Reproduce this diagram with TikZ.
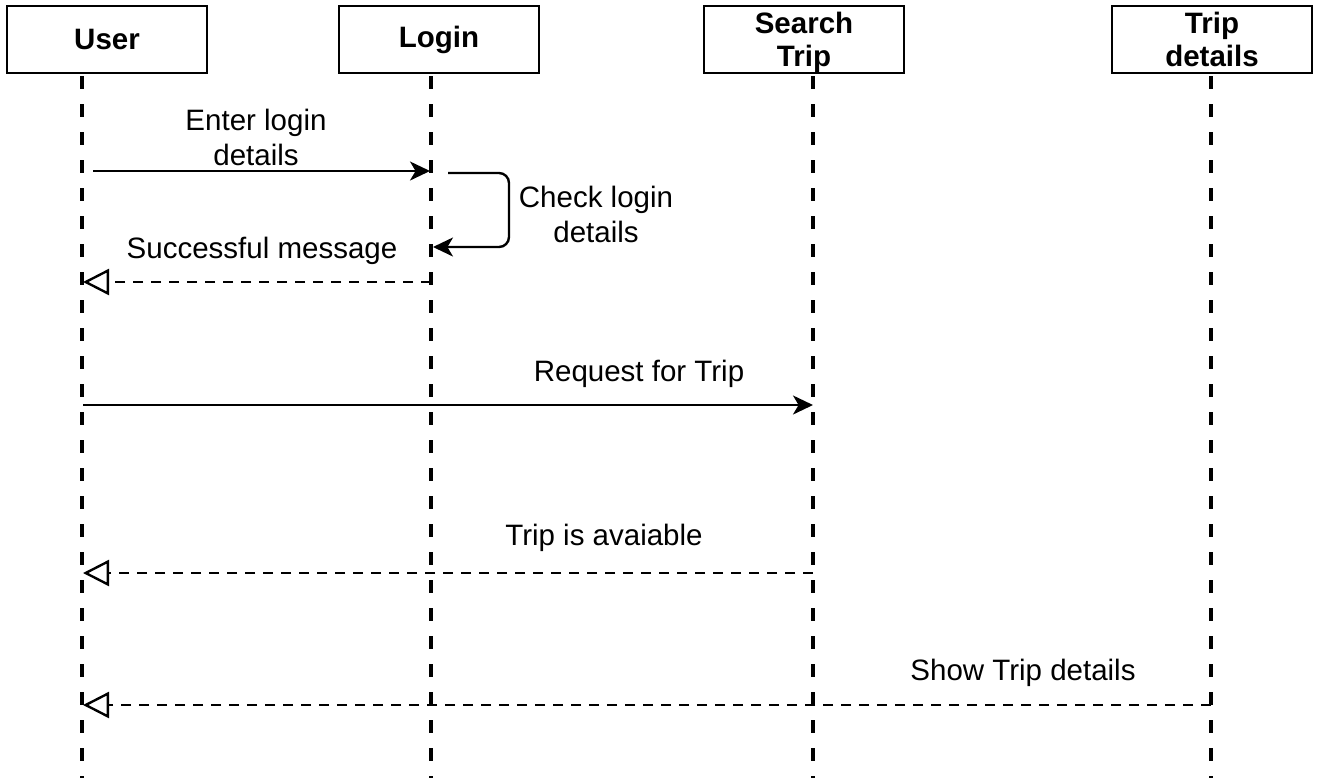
\documentclass[tikz,border=0pt]{standalone}
\usepackage{fontspec}
\setmainfont{Liberation Sans}
\usetikzlibrary{arrows.meta}

\tikzset{
  head/.style={rectangle,draw,line width=1pt,minimum width=100pt,minimum height=33.5pt,inner sep=0pt,align=center,font=\bfseries\fontsize{14.75}{16.5}\selectfont},
  lifeline/.style={line width=2pt,dash pattern=on 6.5pt off 7.5pt},
  call/.style={line width=1.2pt,-{Stealth[length=10pt,width=9.5pt,inset=2.8pt]}},
  reply/.style={line width=1.2pt,dash pattern=on 5pt off 4pt,-{Triangle[open,length=13pt,width=13pt,line width=1.2pt]}},
  msglabel/.style={align=center,inner sep=0pt,font=\fontsize{14.75}{17.5}\selectfont},
}

\begin{document}
\begin{tikzpicture}[x=0.5pt,y=-0.5pt]
    \useasboundingbox (0,0) rectangle (1319,778);

    \node[head] (user) at (107,39.5) {User};
    \node[head] (login) at (439,39.5) {Login};
    \node[head,text depth=0pt] (search) at (804,39.5) {Search\\Trip};
    \node[head,text depth=0pt] (trip) at (1212,39.5) {Trip\\details};

    % lifelines
    \coordinate (userTop) at (82,76);
    \coordinate (userEnd) at (82,778);
    \coordinate (loginTop) at (431,76);
    \coordinate (loginEnd) at (431,778);
    \coordinate (searchTop) at (813,76);
    \coordinate (searchEnd) at (813,778);
    \coordinate (tripTop) at (1211,76);
    \coordinate (tripEnd) at (1211,778);

    \draw[lifeline] (userTop) -- (userEnd);
    \draw[lifeline] (loginTop) -- (loginEnd);
    \draw[lifeline] (searchTop) -- (searchEnd);
    \draw[lifeline] (tripTop) -- (tripEnd);

    % message ends
    \coordinate (enterA) at (93,171);
    \coordinate (enterB) at (430,171);
    \coordinate (checkA) at (448,173);
    \coordinate (checkB) at (433,247);
    \coordinate (okA) at (431,282);
    \coordinate (okB) at (83,282);
    \coordinate (reqA) at (83,405);
    \coordinate (reqB) at (813,405);
    \coordinate (availA) at (813,573);
    \coordinate (availB) at (83,573);
    \coordinate (showA) at (1211,705);
    \coordinate (showB) at (83,705);

    \draw[call] (enterA) -- (enterB);
    \draw[call,rounded corners=5pt] (checkA) -- ++(61,0) |- (checkB);
    \draw[reply] (okA) -- (okB);
    \draw[call] (reqA) -- (reqB);
    \draw[reply] (availA) -- (availB);
    \draw[reply] (showA) -- (showB);

    \node[msglabel] (enterTxt) at (256,137) {Enter login\\details};
    \node[msglabel] (checkTxt) at (596,214) {Check login\\details};
    \node[msglabel] (okTxt) at (262,251) {Successful message};
    \node[msglabel] (reqTxt) at (639,374) {Request for Trip};
    \node[msglabel] (availTxt) at (604,538) {Trip is avaiable};
    \node[msglabel] (showTxt) at (1023,673) {Show Trip details};
\end{tikzpicture}
\end{document}
